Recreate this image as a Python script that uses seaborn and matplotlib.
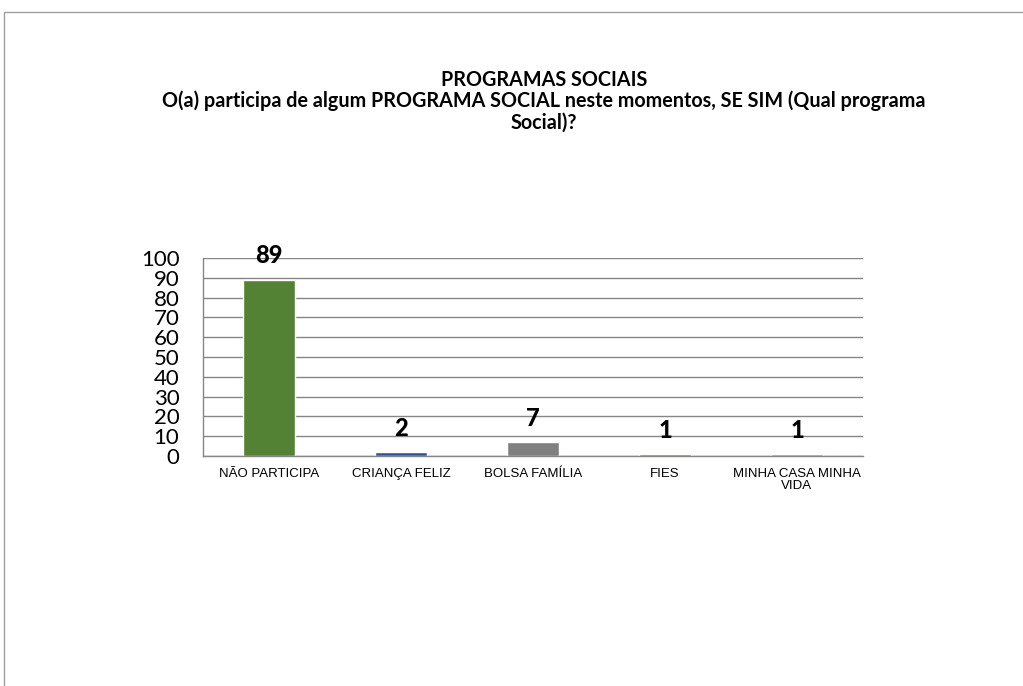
import matplotlib
matplotlib.use("Agg")
import matplotlib.pyplot as plt
import matplotlib.patches as mpatches
import pandas as pd
import seaborn as sns

categories = ["NÃO PARTICIPA", "CRIANÇA FELIZ", "BOLSA FAMÍLIA", "FIES", "MINHA CASA MINHA\nVIDA"]
values = [89, 2, 7, 1, 1]
colors = ["#548235", "#2F5597", "#808080", "#00B050", "#BF9000"]
title = ("PROGRAMAS SOCIAIS\n"
         "O(a) participa de algum PROGRAMA SOCIAL neste momentos, SE SIM (Qual programa\n"
         "Social)?")


def main():
    sns.set_style("white")
    plt.rcParams["font.family"] = ["Lato", "DejaVu Sans"]
    plt.rcParams["text.color"] = "black"
    plt.rcParams["xtick.color"] = "black"
    plt.rcParams["ytick.color"] = "black"

    df = pd.DataFrame({"cat": categories, "val": values})

    fig = plt.figure(figsize=(10.23, 6.86), dpi=100)
    ax = fig.add_axes([0.1984, 0.3353, 0.6452, 0.2886])

    sns.barplot(data=df, x="cat", y="val", hue="cat", palette=colors,
                legend=False, width=0.4, ax=ax, saturation=1)

    ax.set_xlim(-0.5, len(categories) - 0.5)
    ax.set_ylim(0, 100)
    ax.set_yticks(range(0, 101, 10))
    ax.set_xlabel("")
    ax.set_ylabel("")

    ax.grid(axis="y", color="#868686", linewidth=1)
    ax.set_axisbelow(True)
    for side in ["top", "right"]:
        ax.spines[side].set_visible(False)
    for side in ["left", "bottom"]:
        ax.spines[side].set_color("#868686")
        ax.spines[side].set_linewidth(1)

    ax.tick_params(axis="y", length=5, color="#868686", labelcolor="black",
                   labelsize=16, pad=12)
    ax.tick_params(axis="x", which="major", length=0, labelsize=9.5, pad=9,
                   labelcolor="black")
    ax.set_xticks([i - 0.5 for i in range(len(categories) + 1)], minor=True)
    ax.tick_params(axis="x", which="minor", length=5, color="#868686")
    for lab in ax.get_xticklabels():
        lab.set_family(["Liberation Sans", "DejaVu Sans"])
        lab.set_linespacing(1.0)

    for i, v in enumerate(values):
        ax.annotate(str(v), (i, v), xytext=(0, 9), textcoords="offset points",
                    ha="center", va="bottom", fontsize=17, fontweight="black")

    fig.text(0.532, 0.898, title, ha="center", va="top", fontsize=14.2,
             fontweight="bold", linespacing=1.05)

    border = mpatches.Rectangle((4 / 1023, -0.05), 1.1, (686 - 12) / 686 + 0.05,
                                transform=fig.transFigure, fill=False,
                                edgecolor="#a0a0a0", linewidth=1)
    fig.add_artist(border)

    fig.savefig("out.png", dpi=100)


if __name__ == "__main__":
    main()
